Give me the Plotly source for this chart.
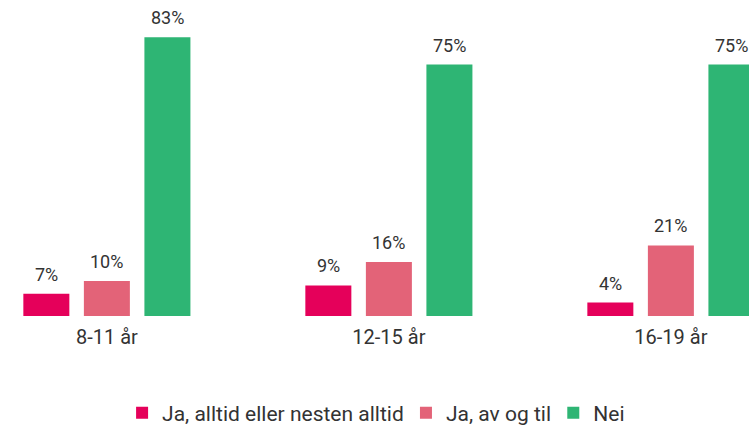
import plotly.graph_objects as go

categories = ["8-11 år", "12-15 år", "16-19 år"]
series_names = ["Ja, alltid eller nesten alltid", "Ja, av og til", "Nei"]
ja_alltid = [6.6, 9.1, 4.0]
ja_av_og_til = [10.4, 16.1, 21.0]
nei = [82.9, 74.8, 74.8]
colors = ["#E5005A", "#E36378", "#2EB574"]

values = [ja_alltid, ja_av_og_til, nei]
FONT = "Roboto"
TXT = "#333333"
BARGAP = 0.356
legend_keys = ["legend", "legend2", "legend3"]
legend_x = [0.163, 0.542, 0.7387]

fig = go.Figure()
for name, vals, col, lk in zip(series_names, values, colors, legend_keys):
    fig.add_trace(go.Bar(
        x=categories, y=vals, name=name, legend=lk,
        marker=dict(color=col, line=dict(width=0)),
        cliponaxis=False,
    ))

# value labels above each bar
slot = (1 - BARGAP) / 3
for k, vals in enumerate(values):
    for i, v in enumerate(vals):
        fig.add_annotation(
            x=i + (k - 1) * slot, y=v, xref="x", yref="y",
            text=f"{round(v)}%", showarrow=False, yanchor="bottom", yshift=7,
            font=dict(family=FONT, size=18, color=TXT),
        )

legend_common = dict(orientation="h", xanchor="left", y=-0.307, yanchor="middle",
                     font=dict(family=FONT, size=21, color=TXT), bgcolor="rgba(0,0,0,0)")
fig.update_layout(
    width=749, height=425,
    margin=dict(l=0, r=0, t=0, b=109, autoexpand=False),
    paper_bgcolor="white", plot_bgcolor="white",
    barmode="group", bargap=BARGAP, bargroupgap=0.24,
    font=dict(family=FONT, color=TXT),
    showlegend=True,
    legend=dict(x=legend_x[0], **legend_common),
    legend2=dict(x=legend_x[1], **legend_common),
    legend3=dict(x=legend_x[2], **legend_common),
    xaxis=dict(range=[-0.379, 2.277], showgrid=False, showline=False, zeroline=False,
               tickfont=dict(family=FONT, size=20, color=TXT), ticks="",
               ticklabelstandoff=7),
    yaxis=dict(range=[0, 94.0], visible=False),
)

fig.write_html("out.html", config={"displayModeBar": False},
               post_script="document.body.style.margin='0';")
